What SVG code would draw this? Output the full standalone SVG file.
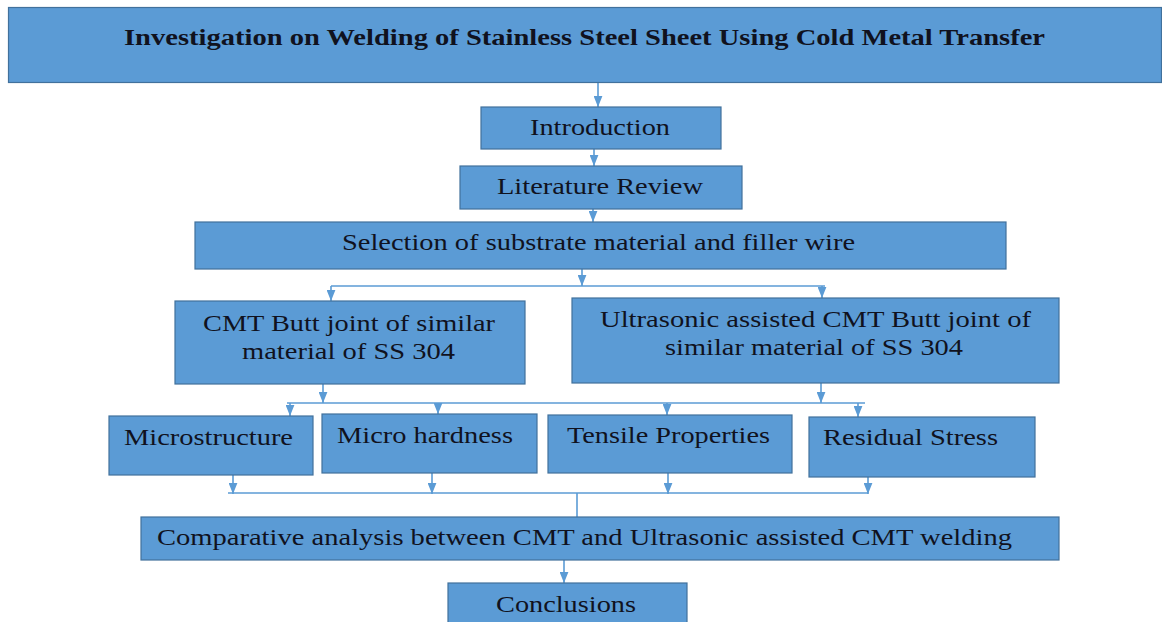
<svg xmlns="http://www.w3.org/2000/svg" width="1162" height="622" viewBox="0 0 1162 622">
<defs>
<style>
.box{fill:#5B9BD5;stroke:#41719C;stroke-width:1.2}
.t{font-family:"Liberation Serif","Times New Roman",serif;font-size:24px;fill:#10121e}
.b{font-weight:bold}
.c{stroke:#5B9BD5;stroke-width:1.6;fill:none}
.a{marker-end:url(#arr)}
</style>
<marker id="arr" viewBox="0 0 10 8" refX="10" refY="4" markerWidth="11" markerHeight="9" markerUnits="userSpaceOnUse" orient="auto">
<path d="M0,0 L10,4 L0,8 z" fill="#5B9BD5"/>
</marker>
</defs>
<rect width="1162" height="622" fill="#ffffff"/>
<g id="connectors">
<line class="c a" x1="598" y1="82" x2="598" y2="107"/>
<line class="c a" x1="594" y1="149" x2="594" y2="166"/>
<line class="c a" x1="593" y1="209" x2="593" y2="222"/>
<line class="c a" x1="582" y1="269" x2="582" y2="286"/>
<line class="c" x1="331" y1="286" x2="825" y2="286"/>
<line class="c a" x1="331" y1="286" x2="331" y2="301"/>
<line class="c a" x1="822" y1="286" x2="822" y2="298"/>
<line class="c a" x1="323" y1="384" x2="323" y2="403"/>
<line class="c a" x1="821" y1="383" x2="821" y2="403"/>
<line class="c" x1="287" y1="403" x2="865" y2="403"/>
<line class="c a" x1="290" y1="403" x2="290" y2="416"/>
<line class="c a" x1="438" y1="403" x2="438" y2="414"/>
<line class="c a" x1="667" y1="403" x2="667" y2="415"/>
<line class="c a" x1="858" y1="403" x2="858" y2="417"/>
<line class="c a" x1="233" y1="475" x2="233" y2="494"/>
<line class="c a" x1="432" y1="473" x2="432" y2="494"/>
<line class="c a" x1="668" y1="473" x2="668" y2="494"/>
<line class="c a" x1="868" y1="477" x2="868" y2="494"/>
<line class="c" x1="228" y1="493" x2="868" y2="493"/>
<line class="c" x1="577" y1="493" x2="577" y2="517"/>
<line class="c a" x1="564" y1="560" x2="564" y2="583"/>
</g>
<g id="title">
<rect class="box" x="8.5" y="7.5" width="1153" height="75"/>
<text class="t b" x="124" y="45" textLength="921" lengthAdjust="spacingAndGlyphs">Investigation on Welding of Stainless Steel Sheet Using Cold Metal Transfer</text>
</g>
<g id="introduction">
<rect class="box" x="481" y="107" width="240" height="42"/>
<text class="t" x="530" y="135" textLength="140" lengthAdjust="spacingAndGlyphs">Introduction</text>
</g>
<g id="literature">
<rect class="box" x="460" y="166" width="282" height="43"/>
<text class="t" x="497" y="194" textLength="206" lengthAdjust="spacingAndGlyphs">Literature Review</text>
</g>
<g id="selection">
<rect class="box" x="195" y="222" width="811" height="47"/>
<text class="t" x="342" y="250" textLength="513" lengthAdjust="spacingAndGlyphs">Selection of substrate material and filler wire</text>
</g>
<g id="cmt">
<rect class="box" x="175" y="301" width="350" height="83"/>
<text class="t" x="203" y="331" textLength="292" lengthAdjust="spacingAndGlyphs">CMT Butt joint of similar</text>
<text class="t" x="242" y="359" textLength="213" lengthAdjust="spacingAndGlyphs">material of SS 304</text>
</g>
<g id="ultrasonic">
<rect class="box" x="572" y="298" width="487" height="85"/>
<text class="t" x="600" y="327" textLength="431" lengthAdjust="spacingAndGlyphs">Ultrasonic assisted CMT Butt joint of</text>
<text class="t" x="665" y="355" textLength="298" lengthAdjust="spacingAndGlyphs">similar material of SS 304</text>
</g>
<g id="microstructure">
<rect class="box" x="109" y="416" width="204" height="59"/>
<text class="t" x="124" y="445" textLength="169" lengthAdjust="spacingAndGlyphs">Microstructure</text>
</g>
<g id="microhardness">
<rect class="box" x="322" y="414" width="215" height="59"/>
<text class="t" x="337" y="443" textLength="176" lengthAdjust="spacingAndGlyphs">Micro hardness</text>
</g>
<g id="tensile">
<rect class="box" x="548" y="415" width="244" height="58"/>
<text class="t" x="567" y="443" textLength="203" lengthAdjust="spacingAndGlyphs">Tensile Properties</text>
</g>
<g id="residual">
<rect class="box" x="809" y="417" width="226" height="60"/>
<text class="t" x="823" y="445" textLength="175" lengthAdjust="spacingAndGlyphs">Residual Stress</text>
</g>
<g id="comparative">
<rect class="box" x="141" y="517" width="918" height="43"/>
<text class="t" x="157" y="545" textLength="855" lengthAdjust="spacingAndGlyphs">Comparative analysis between CMT and Ultrasonic assisted CMT welding</text>
</g>
<g id="conclusions">
<rect class="box" x="448" y="583" width="239" height="50"/>
<text class="t" x="496" y="612" textLength="140" lengthAdjust="spacingAndGlyphs">Conclusions</text>
</g>
</svg>
